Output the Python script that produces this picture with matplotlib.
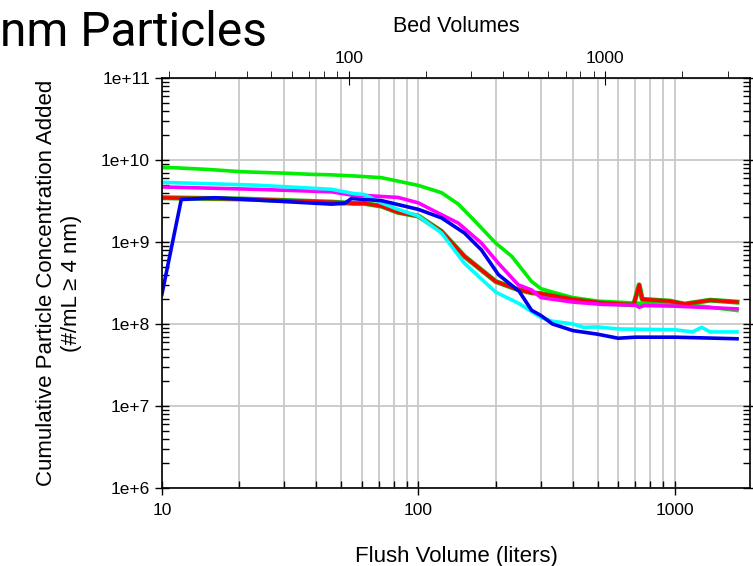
import matplotlib.pyplot as plt
import matplotlib.patheffects as pe
from matplotlib.ticker import LogLocator, NullFormatter
import numpy as np

plt.rcParams['font.family'] = ['Liberation Sans', 'DejaVu Sans']

# flush volume (liters) and cumulative concentration per run
lime_x = [10, 15, 20.5, 31, 38, 45.8, 56, 71.7, 100, 123, 143, 166, 200, 231, 276, 300, 333, 400, 500, 700, 1000, 1290, 1745]
lime_y = [8.2e9, 7.7e9, 7.2e9, 6.9e9, 6.7e9, 6.6e9, 6.4e9, 6.1e9, 4.9e9, 4.0e9, 2.9e9, 1.8e9, 9.7e8, 6.7e8, 3.3e8, 2.7e8,
          2.45e8, 2.1e8, 1.9e8, 1.8e8, 1.73e8, 1.64e8, 1.46e8]

red_x = [10, 20.5, 45.8, 56, 61.5, 71.7, 83.3, 100, 123, 151, 200, 238, 276, 300, 400, 524, 690, 725, 745, 955, 1090, 1370, 1745]
red_y = [3.47e9, 3.35e9, 3.07e9, 2.96e9, 2.96e9, 2.74e9, 2.3e9, 2.07e9, 1.35e9, 6.7e8, 3.3e8, 2.7e8, 2.4e8, 2.35e8,
         2.0e8, 1.8e8, 1.72e8, 3.0e8, 2.0e8, 1.9e8, 1.75e8, 1.95e8, 1.85e8]

magenta_x = [10, 23, 45.8, 56, 61.5, 83.3, 100, 112, 143, 176, 205, 245, 276, 300, 400, 524, 700, 725, 760, 1000, 1745]
magenta_y = [4.7e9, 4.4e9, 4.1e9, 3.7e9, 3.7e9, 3.5e9, 3.0e9, 2.5e9, 1.7e9, 9.7e8, 5.5e8, 3.0e8, 2.6e8, 2.1e8, 1.85e8,
             1.73e8, 1.7e8, 1.6e8, 1.68e8, 1.65e8, 1.53e8]

cyan_x = [10, 23, 45.8, 56, 61.5, 71.7, 83.3, 100, 123, 151, 200, 247, 300, 333, 400, 440, 500, 600, 1000, 1170, 1270, 1370, 1745]
cyan_y = [5.35e9, 4.95e9, 4.4e9, 3.9e9, 3.8e9, 3.0e9, 2.5e9, 2.07e9, 1.29e9, 5.5e8, 2.45e8, 1.77e8, 1.2e8, 1.08e8,
          1.0e8, 9.1e7, 9.2e7, 8.7e7, 8.5e7, 8.0e7, 9.1e7, 8.0e7, 8.0e7]

blue_x = [10, 11.9, 16.1, 31, 45.8, 51.6, 54.8, 61.5, 71.7, 100, 123, 151, 176, 205, 247, 276, 300, 333, 400, 500, 600, 700, 1000, 1745]
blue_y = [2.3e8, 3.3e9, 3.47e9, 3.1e9, 2.9e9, 2.96e9, 3.4e9, 3.3e9, 3.2e9, 2.5e9, 1.97e9, 1.29e9, 8.0e8, 4.0e8, 2.5e8,
          1.47e8, 1.27e8, 1.0e8, 8.3e7, 7.5e7, 6.7e7, 6.9e7, 6.9e7, 6.6e7]

bv_per_liter = 1.87

fig = plt.figure(figsize=(7.53, 5.66), dpi=100)
ax = fig.add_axes([0.215, 0.138, 0.781, 0.724])

ax.plot(lime_x, lime_y, color='#00ee00', lw=2.6)
ax.plot(red_x, red_y, color='#ff0000', lw=2.4,
        path_effects=[pe.Stroke(linewidth=3.6, foreground='#22aa00'), pe.Normal()])
ax.plot(magenta_x, magenta_y, color='#ff00ff', lw=2.6)
ax.plot(cyan_x, cyan_y, color='#00ffff', lw=2.6)
ax.plot(blue_x, blue_y, color='#0000ee', lw=2.6)

ax.set_xscale('log')
ax.set_yscale('log')
ax.set_xlim(10, 1960)
ax.set_ylim(1e6, 1e11)

ax.grid(True, which='major', axis='both', color='#c8c8c8', lw=1.3)
ax.grid(True, which='minor', axis='x', color='#c8c8c8', lw=1.3)
ax.set_axisbelow(True)

ax.xaxis.set_major_formatter(plt.FuncFormatter(lambda v, p: '%d' % v))
ax.xaxis.set_minor_formatter(NullFormatter())
ax.yaxis.set_major_locator(LogLocator(base=10, numticks=10))
ax.yaxis.set_minor_locator(LogLocator(base=10, subs=np.arange(2, 10), numticks=20))
ax.yaxis.set_major_formatter(plt.FuncFormatter(lambda v, p: '1e%+d' % round(np.log10(v))))

ax.tick_params(axis='both', which='major', direction='inout', length=10, width=1, labelsize=12.5)
ax.tick_params(axis='both', which='minor', direction='in', length=5, width=1)
ax.tick_params(axis='y', which='both', right=True)
ax.tick_params(axis='x', which='major', pad=6)
for s in ax.spines.values():
    s.set_linewidth(1.2)

ax.set_xlabel('Flush Volume (liters)', fontsize=16, labelpad=20)
ax.set_ylabel('Cumulative Particle Concentration Added\n(#/mL \u2265 4 nm)', fontsize=16, labelpad=14)

top = ax.secondary_xaxis('top', functions=(lambda x: x * bv_per_liter, lambda b: b / bv_per_liter))
top.xaxis.set_major_formatter(plt.FuncFormatter(lambda v, p: '%d' % v))
top.xaxis.set_minor_formatter(NullFormatter())
top.tick_params(which='major', direction='inout', length=10, labelsize=12.5)
top.tick_params(which='minor', direction='out', length=5)
top.set_xlabel('Bed Volumes', fontsize=15.5, labelpad=14)

fig.text(0.0, 0.919, 'nm Particles', fontsize=34.5, family='Roboto', ha='left', va='baseline')

fig.savefig('out.png', dpi=100)
